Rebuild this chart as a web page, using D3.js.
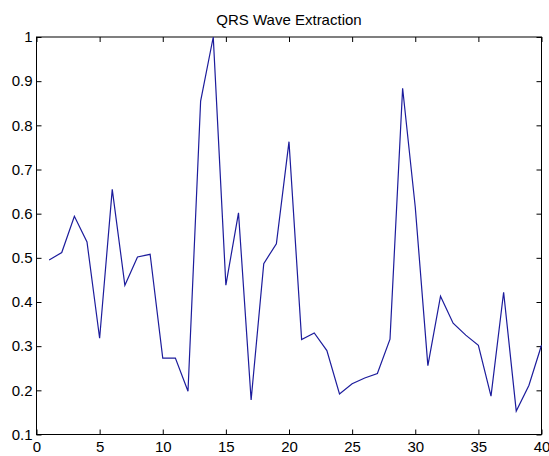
<!DOCTYPE html>
<html>
<head>
<meta charset="utf-8">
<script src="https://cdn.jsdelivr.net/npm/d3@7"></script>
<style>
  body { margin: 0; background: #fff; }
  text { font-family: "Liberation Sans", Arial, sans-serif; }
</style>
</head>
<body>
<svg id="chart" width="549" height="456"></svg>
<script>
var sampleIdx = d3.range(1, 41)
var qrsValues = [0.495, 0.512, 0.594, 0.536, 0.318, 0.655, 0.438, 0.502, 0.508, 0.273,
                 0.273, 0.198, 0.855, 1.0, 0.438, 0.602, 0.178, 0.487, 0.532, 0.763,
                 0.315, 0.330, 0.290, 0.192, 0.215, 0.228, 0.238, 0.316, 0.884, 0.615,
                 0.256, 0.413, 0.352, 0.325, 0.302, 0.187, 0.422, 0.153, 0.211, 0.302]
var xTicks = [0, 5, 10, 15, 20, 25, 30, 35, 40]
var yTicks = [0.1, 0.2, 0.3, 0.4, 0.5, 0.6, 0.7, 0.8, 0.9, 1]
var chartTitle = "QRS Wave Extraction"

var svg = d3.select("#chart")
var plotLeft = 36.5, plotRight = 541.5, plotTop = 37, plotBottom = 434.5

var x = d3.scaleLinear().domain([0, 40]).range([plotLeft, plotRight])
var y = d3.scaleLinear().domain([0.1, 1]).range([plotBottom, plotTop])

// box
svg.append("rect")
   .attr("x", plotLeft).attr("y", plotTop)
   .attr("width", plotRight - plotLeft).attr("height", plotBottom - plotTop)
   .attr("fill", "#fff").attr("stroke", "#000").attr("stroke-width", 1)

// ticks (inward, all four sides)
svg.append("g")
   .attr("transform", `translate(0,${plotBottom})`)
   .call(d3.axisBottom(x).tickValues(xTicks).tickSizeInner(-5).tickSizeOuter(0).tickPadding(7).tickFormat(d3.format("d")))
   .call(g => g.select(".domain").remove())
svg.append("g")
   .attr("transform", `translate(0,${plotTop})`)
   .call(d3.axisTop(x).tickValues(xTicks).tickSizeInner(-5).tickSizeOuter(0).tickFormat(""))
   .call(g => g.select(".domain").remove())
svg.append("g")
   .attr("transform", `translate(${plotLeft},0)`)
   .call(d3.axisLeft(y).tickValues(yTicks).tickSizeInner(-5).tickSizeOuter(0).tickPadding(4).tickFormat(d => d === 1 ? "1" : d3.format(".1f")(d)))
   .call(g => g.select(".domain").remove())
svg.append("g")
   .attr("transform", `translate(${plotRight},0)`)
   .call(d3.axisRight(y).tickValues(yTicks).tickSizeInner(-5).tickSizeOuter(0).tickFormat(""))
   .call(g => g.select(".domain").remove())

svg.selectAll(".tick line").attr("stroke", "#000")
svg.selectAll(".tick text")
   .attr("fill", "#000")
   .style("font-size", "15px")
   .style("font-family", "'Liberation Sans', Arial, sans-serif")

// line
var line = d3.line()
   .x((d, i) => x(sampleIdx[i]))
   .y(d => y(d))

svg.append("path")
   .datum(qrsValues)
   .attr("d", line)
   .attr("fill", "none")
   .attr("stroke", "#1c1c9c")
   .attr("stroke-width", 1.2)

svg.append("text")
   .attr("x", (plotLeft + plotRight) / 2)
   .attr("y", 25)
   .attr("text-anchor", "middle")
   .style("font-size", "15px")
   .text(chartTitle)
</script>
</body>
</html>
